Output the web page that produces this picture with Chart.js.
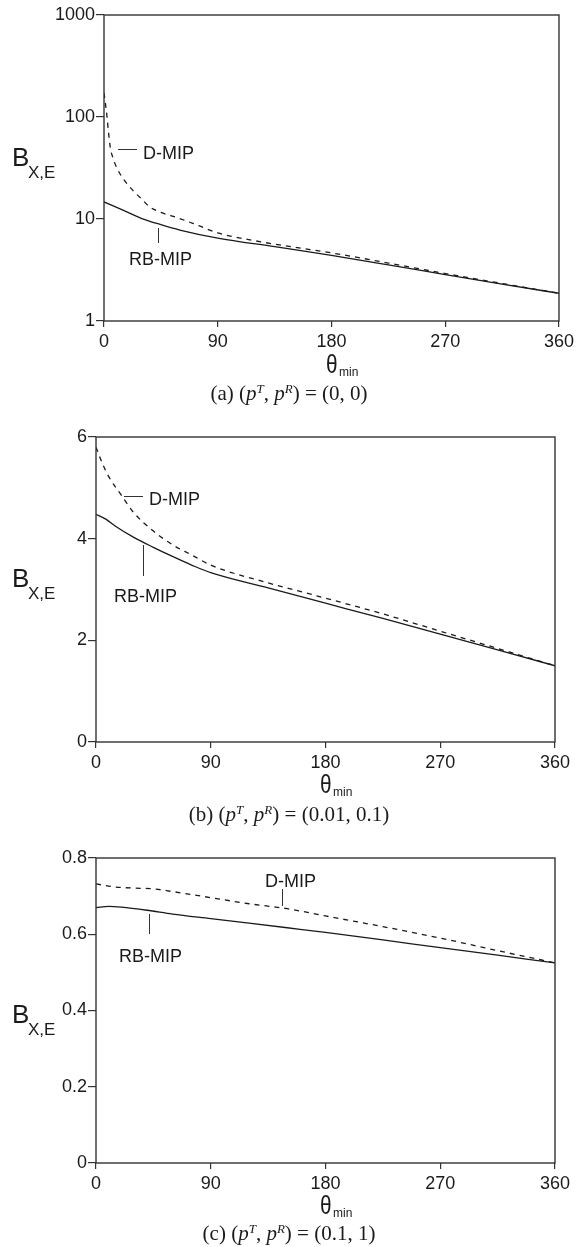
<!DOCTYPE html>
<html>
<head>
<meta charset="utf-8">
<script src="https://cdn.jsdelivr.net/npm/chart.js@4.4.1/dist/chart.umd.min.js"></script>
<style>
  html, body { margin: 0; padding: 0; background: #fff; }
  #page { position: relative; width: 578px; height: 1247px; overflow: hidden; }
  canvas { position: absolute; left: 0; }
  .txt { position: absolute; line-height: 1; white-space: nowrap; color: #1a1a1a;
         font-family: 'Liberation Sans', Arial, sans-serif; }
  .serif { font-family: 'Liberation Serif', 'Times New Roman', serif; }
  .lead { position: absolute; background: #333; }
  sup { font-size: 62%; vertical-align: 0.55em; line-height: 0; font-style: italic; }
</style>
</head>
<body>
<div id="page">
  <canvas id="chartA" width="578" height="361" style="top:0px"></canvas>
  <canvas id="chartB" width="578" height="360" style="top:422px"></canvas>
  <canvas id="chartC" width="578" height="360" style="top:843px"></canvas>
</div>
<script>
// Eje x común: theta_min en grados
const xTicks = [0, 90, 180, 270, 360];

// (a) (pT, pR) = (0, 0), eje y logarítmico
const yTicksA = [1, 10, 100, 1000];
const thetaA_D = [0, 1, 2.4, 3.5, 5, 7, 10, 15, 23, 30, 36, 45, 58, 75, 90, 120, 150, 180, 225, 270, 315, 360];
const dmipA = [172, 140, 100, 72, 50, 40, 32, 25, 19, 15.6, 13.2, 11.6, 10.3, 8.6, 7.3, 6.1, 5.3, 4.65, 3.7, 2.92, 2.33, 1.87];
const thetaA_R = [0, 15, 30, 45, 60, 90, 135, 180, 225, 270, 315, 360];
const rbmipA = [14.7, 12.2, 10.1, 8.8, 7.8, 6.5, 5.35, 4.4, 3.55, 2.85, 2.3, 1.87];

// (b) (pT, pR) = (0.01, 0.1)
const yTicksB = [0, 2, 4, 6];
const thetaB_D = [0, 5, 10, 20, 30, 45, 60, 75, 90, 135, 180, 225, 270, 315, 360];
const dmipB = [5.8, 5.48, 5.22, 4.85, 4.5, 4.15, 3.88, 3.68, 3.48, 3.13, 2.83, 2.52, 2.18, 1.84, 1.5];
const thetaB_R = [0, 8, 15, 30, 45, 60, 75, 90, 135, 180, 225, 270, 315, 360];
const rbmipB = [4.48, 4.38, 4.25, 4.02, 3.83, 3.65, 3.48, 3.33, 3.03, 2.73, 2.43, 2.12, 1.81, 1.5];

// (c) (pT, pR) = (0.1, 1)
const yTicksC = [0, 0.2, 0.4, 0.6, 0.8];
const thetaC_D = [0, 15, 30, 45, 60, 75, 90, 120, 150, 180, 225, 270, 315, 360];
const dmipC = [0.732, 0.724, 0.721, 0.719, 0.712, 0.704, 0.696, 0.68, 0.667, 0.648, 0.62, 0.59, 0.557, 0.525];
const thetaC_R = [0, 10, 20, 40, 60, 90, 120, 150, 180, 225, 270, 315, 360];
const rbmipC = [0.670, 0.673, 0.671, 0.663, 0.653, 0.641, 0.629, 0.617, 0.605, 0.585, 0.565, 0.545, 0.525];

const INK = '#1a1a1a';
const AXIS = '#333';
const tickFont = { family: "'Liberation Sans', Arial, sans-serif", size: 18 };

// Marco completo alrededor del área del gráfico
const framePlugin = {
    id: 'frame',
    afterDraw(chart) {
        const { ctx, chartArea: a } = chart;
        ctx.save();
        ctx.strokeStyle = AXIS;
        ctx.lineWidth = 1.4;
        ctx.strokeRect(a.left, a.top, a.right - a.left, a.bottom - a.top);
        ctx.restore();
    }
};

function toPoints(xs, ys) {
    return xs.map((x, i) => ({ x: x, y: ys[i] }));
}

function makePanel(id, p) {
    return new Chart(document.getElementById(id).getContext('2d'), {
        type: 'line',
        data: {
            datasets: [
                {
                    label: 'D-MIP',
                    data: toPoints(p.thetaD, p.dmip),
                    borderColor: INK,
                    borderWidth: 1.3,
                    borderDash: [5, 5],
                    pointRadius: 0,
                    cubicInterpolationMode: 'monotone'
                },
                {
                    label: 'RB-MIP',
                    data: toPoints(p.thetaR, p.rbmip),
                    borderColor: INK,
                    borderWidth: 1.3,
                    pointRadius: 0,
                    cubicInterpolationMode: 'monotone'
                }
            ]
        },
        options: {
            responsive: false,
            animation: false,
            devicePixelRatio: 1,
            layout: { padding: { left: 0, right: p.padRight, top: 15, bottom: 0 } },
            plugins: { legend: { display: false }, tooltip: { enabled: false } },
            scales: {
                x: {
                    type: 'linear',
                    min: 0,
                    max: 360,
                    afterBuildTicks: s => { s.ticks = xTicks.map(v => ({ value: v })); },
                    afterFit: s => { s.height = 40; },
                    border: { display: false },
                    grid: { drawOnChartArea: false, drawTicks: true, tickLength: 6, color: AXIS, lineWidth: 1.2 },
                    ticks: { color: INK, font: tickFont, padding: 4, maxRotation: 0, callback: v => String(v) }
                },
                y: {
                    type: p.log ? 'logarithmic' : 'linear',
                    min: p.yTicks[0],
                    max: p.yTicks[p.yTicks.length - 1],
                    afterBuildTicks: s => { s.ticks = p.yTicks.map(v => ({ value: v })); },
                    afterFit: s => { s.width = p.left; },
                    border: { display: false },
                    grid: { drawOnChartArea: false, drawTicks: true, tickLength: 8, color: AXIS, lineWidth: 1.2 },
                    ticks: { color: INK, font: tickFont, padding: 1, callback: v => String(v) }
                }
            }
        },
        plugins: [framePlugin]
    });
}

makePanel('chartA', { thetaD: thetaA_D, dmip: dmipA, thetaR: thetaA_R, rbmip: rbmipA,
                      yTicks: yTicksA, log: true, left: 104, padRight: 18 });
makePanel('chartB', { thetaD: thetaB_D, dmip: dmipB, thetaR: thetaB_R, rbmip: rbmipB,
                      yTicks: yTicksB, log: false, left: 96, padRight: 23 });
makePanel('chartC', { thetaD: thetaC_D, dmip: dmipC, thetaR: thetaC_R, rbmip: rbmipC,
                      yTicks: yTicksC, log: false, left: 96, padRight: 23 });

// Textos y líneas guía en HTML
const page = document.getElementById('page');

function addText(html, x, baseline, size, extraClass, center) {
    const d = document.createElement('div');
    d.className = 'txt' + (extraClass ? ' ' + extraClass : '');
    d.innerHTML = html;
    d.style.fontSize = size + 'px';
    d.style.left = x + 'px';
    d.style.top = (baseline - 0.845 * size) + 'px';
    if (center) d.style.transform = 'translateX(-50%)';
    page.appendChild(d);
}

function addLead(x1, y1, x2, y2) {
    const d = document.createElement('div');
    d.className = 'lead';
    d.style.left = Math.min(x1, x2) + 'px';
    d.style.top = Math.min(y1, y2) + 'px';
    d.style.width = Math.max(1.2, Math.abs(x2 - x1)) + 'px';
    d.style.height = Math.max(1.2, Math.abs(y2 - y1)) + 'px';
    page.appendChild(d);
}

function axisTitles(bBase, thetaLeft, thetaBase) {
    addText('B', 12, bBase, 26);
    addText('X,E', 28, bBase + 12, 17);
    addText('<span style="display:inline-block;transform:scaleX(0.8);transform-origin:left">θ</span>', thetaLeft, thetaBase, 26);
    addText('min', thetaLeft + 13, thetaBase + 3, 12);
}

axisTitles(166, 326, 373);
axisTitles(587, 320, 793);
axisTitles(1023, 320, 1214);

addText('(a) (<i>p</i><sup>T</sup>, <i>p</i><sup>R</sup>) = (0, 0)', 289, 401, 21, 'serif', true);
addText('(b) (<i>p</i><sup>T</sup>, <i>p</i><sup>R</sup>) = (0.01, 0.1)', 289, 822, 21, 'serif', true);
addText('(c) (<i>p</i><sup>T</sup>, <i>p</i><sup>R</sup>) = (0.1, 1)', 289, 1241, 21, 'serif', true);

// Etiquetas de las series
addText('D-MIP', 143, 159, 18);  addLead(118, 149, 137, 149);
addText('RB-MIP', 129, 265, 18); addLead(158, 228, 158, 243);
addText('D-MIP', 149, 505, 18);  addLead(124, 496, 143, 496);
addText('RB-MIP', 114, 602, 18); addLead(143, 545, 143, 576);
addText('D-MIP', 265, 887, 18);  addLead(282, 889, 282, 906);
addText('RB-MIP', 119, 962, 18); addLead(149, 914, 149, 934);
</script>
</body>
</html>
